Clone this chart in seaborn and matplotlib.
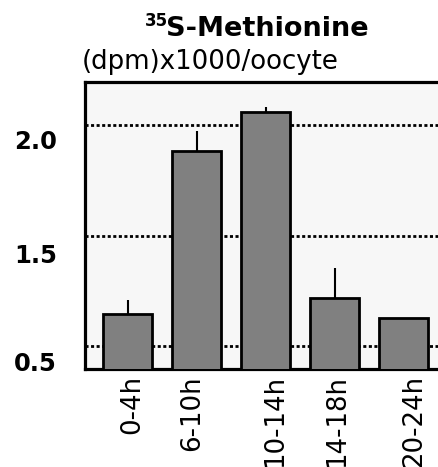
import matplotlib
matplotlib.use("Agg")
import matplotlib.pyplot as plt
import matplotlib.transforms as mtransforms
import seaborn as sns
import numpy as np
import pandas as pd

# ---- data ----
categories = ["0-4h", "6-10h", "10-14h", "14-18h", "20-24h"]
values = [1.145, 1.882, 2.059, 1.217, 1.127]
err_up = [0.063, 0.091, 0.022, 0.136, 0.0]
grid_levels = [1.0, 1.5, 2.0]
ytick_pos = [0.932, 1.419, 1.937]
ytick_labels = ["0.5", "1.5", "2.0"]

sns.set_theme(style="white")
plt.rcParams["font.family"] = ["DejaVu Sans"]
plt.rcParams["text.color"] = "black"
plt.rcParams["xtick.color"] = "black"
plt.rcParams["ytick.color"] = "black"

fig = plt.figure(figsize=(4.38, 4.67), dpi=100)
W, H = 438, 467
ax = fig.add_axes([85 / W, 1 - 369 / H, (438 - 85) / W, (369 - 82) / H])
ax.set_facecolor("#f7f7f7")

df = pd.DataFrame({"cat": categories, "val": values})
sns.barplot(data=df, x="cat", y="val", ax=ax, color="#808080", saturation=1,
            width=0.71, edgecolor="black", linewidth=2.0, errorbar=None, zorder=3)
ax.errorbar(np.arange(len(values)), values,
            yerr=[np.zeros(len(values)), err_up], fmt="none",
            ecolor="black", elinewidth=1.5, capsize=0, zorder=2)

ax.set_xlim(-0.623, 4.493)
ax.set_ylim(0.896, 2.195)

# gridlines via minor ticks
ax.set_yticks(grid_levels, minor=True)
ax.grid(False)
ax.yaxis.grid(True, which="minor", linestyle=(0, (1.1, 0.9)), color="black",
              linewidth=2.0, zorder=1)
ax.set_axisbelow(True)
ax.set_yticks(ytick_pos)
ax.set_yticklabels(ytick_labels, fontsize=17.5, fontweight="bold", color="black")
ax.tick_params(axis="y", which="both", length=0, pad=20)
ax.tick_params(axis="x", length=0, pad=4.5)
ax.set_xticks(range(len(categories)))
ax.set_xticklabels(categories, rotation=90, fontsize=18.7, color="black")
ax.set_xlabel("")
ax.set_ylabel("")

# small horizontal nudges of the rotated labels, as in the reference
label_shift_px = [4, -5, 9, 2, 10]
for lab, dx in zip(ax.get_xticklabels(), label_shift_px):
    lab.set_transform(lab.get_transform() +
                      mtransforms.ScaledTranslation(dx / 100, 0, fig.dpi_scale_trans))

for s in ["left", "top", "bottom"]:
    ax.spines[s].set_visible(True)
    ax.spines[s].set_color("black")
    ax.spines[s].set_linewidth(2.3)
ax.spines["right"].set_visible(False)

# title and unit label
fig.text(166 / W, 1 - 36 / H, "S-Methionine", ha="left", va="baseline",
         fontsize=19.5, fontweight="bold", color="black")
fig.text(168 / W, 1 - 26 / H, "35", ha="right", va="baseline",
         fontsize=12, fontweight="bold", color="black")
fig.text(82 / W, 1 - 69 / H, "(dpm)x1000/oocyte", ha="left", va="baseline",
         fontsize=18.7, color="black")

fig.savefig("out.png", dpi=100)
